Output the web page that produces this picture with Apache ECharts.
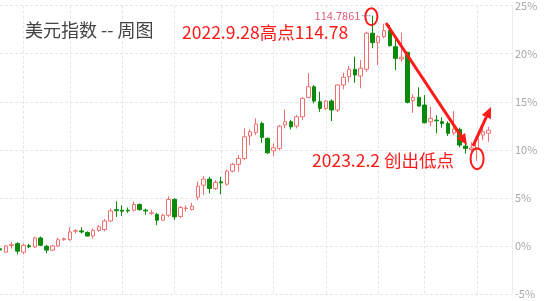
<!DOCTYPE html>
<html>
<head>
<meta charset="utf-8">
<script src="https://cdn.jsdelivr.net/npm/echarts@6/dist/echarts.min.js"></script>
<style>
  html, body { margin: 0; padding: 0; background: #fff; }
  #chart { width: 554px; height: 301px; }
</style>
</head>
<body>
<div id="chart"></div>
<script>
// Weekly bars (week-ending Friday). The last few weeks are still empty slots on the axis.
const weeks = [
  '2021-07-09','2021-07-16','2021-07-23','2021-07-30','2021-08-06','2021-08-13','2021-08-20','2021-08-27',
  '2021-09-03','2021-09-10','2021-09-17','2021-09-24','2021-10-01','2021-10-08','2021-10-15','2021-10-22',
  '2021-10-29','2021-11-05','2021-11-12','2021-11-19','2021-11-26','2021-12-03','2021-12-10','2021-12-17',
  '2021-12-24','2021-12-31','2022-01-07','2022-01-14','2022-01-21','2022-01-28','2022-02-04','2022-02-11',
  '2022-02-18','2022-02-25','2022-03-04','2022-03-11','2022-03-18','2022-03-25','2022-04-01','2022-04-08',
  '2022-04-15','2022-04-22','2022-04-29','2022-05-06','2022-05-13','2022-05-20','2022-05-27','2022-06-03',
  '2022-06-10','2022-06-17','2022-06-24','2022-07-01','2022-07-08','2022-07-15','2022-07-22','2022-07-29',
  '2022-08-05','2022-08-12','2022-08-19','2022-08-26','2022-09-02','2022-09-09','2022-09-16','2022-09-23',
  '2022-09-30','2022-10-07','2022-10-14','2022-10-21','2022-10-28','2022-11-04','2022-11-11','2022-11-18',
  '2022-11-25','2022-12-02','2022-12-09','2022-12-16','2022-12-23','2022-12-30','2023-01-06','2023-01-13',
  '2023-01-20','2023-01-27','2023-02-03','2023-02-10','2023-02-17','2023-02-24','2023-03-03','2023-03-10',
  '2023-03-17'
];

// US Dollar Index weekly OHLC
const open = [
  92.32, 92.00, 92.66, 92.83, 92.00, 92.62, 92.50, 93.37, 92.57, 92.20, 92.60, 93.20, 93.20, 94.02, 94.05, 93.90,
  93.56, 94.10, 94.18, 95.01, 96.10, 96.05, 96.05, 96.04, 96.59, 96.05, 95.75, 95.63, 95.08, 95.56, 97.08, 95.45,
  96.20, 96.11, 97.30, 98.46, 99.04, 98.14, 98.78, 98.55, 99.81, 100.46, 101.03, 103.20, 103.54, 104.41, 102.96, 101.77,
  102.00, 104.25, 104.57, 104.15, 105.05, 106.92, 107.94, 106.50, 105.86, 106.56, 105.70, 108.11, 108.91, 109.62, 108.98, 109.62,
  113.10, 112.19, 112.77, 113.35, 111.80, 110.62, 111.26, 106.59, 106.92, 106.18, 104.57, 104.72, 104.57, 104.41, 103.50, 103.83,
  102.22, 101.90, 101.90, 103.28, 103.47
];
const close = [
  92.22, 92.60, 92.72, 92.10, 92.67, 92.52, 93.37, 92.67, 92.20, 92.60, 93.20, 93.30, 93.95, 94.08, 93.95, 93.56,
  94.10, 94.45, 95.01, 95.98, 96.00, 95.95, 95.98, 96.59, 96.10, 95.97, 95.78, 95.08, 95.56, 97.08, 95.40, 96.30,
  96.25, 96.43, 98.36, 99.04, 98.14, 98.72, 98.68, 99.81, 100.46, 101.03, 103.12, 103.60, 104.34, 103.06, 101.57, 102.06,
  104.15, 104.57, 104.08, 105.05, 106.82, 107.94, 106.56, 105.86, 106.56, 105.70, 108.11, 108.85, 109.62, 109.07, 109.72, 113.10,
  112.19, 112.77, 113.35, 111.90, 110.68, 110.78, 106.44, 106.92, 106.08, 104.47, 104.89, 104.66, 104.41, 103.45, 103.85, 102.32,
  102.00, 102.05, 102.95, 103.60, 103.76
];
const low = [
  91.95, 91.95, 92.35, 91.80, 91.80, 92.40, 92.40, 92.60, 91.90, 92.10, 92.50, 93.08, 93.10, 93.80, 93.80, 93.50,
  93.30, 93.95, 94.00, 94.90, 95.40, 95.50, 95.80, 95.90, 96.00, 95.60, 95.60, 94.60, 95.00, 95.40, 95.10, 95.30,
  95.90, 96.00, 97.00, 97.50, 97.66, 98.00, 97.56, 98.40, 99.70, 99.74, 100.87, 102.32, 103.28, 102.54, 101.45, 101.26,
  101.80, 103.93, 103.83, 103.93, 104.73, 106.82, 106.34, 105.53, 105.70, 104.63, 105.50, 107.69, 108.37, 108.33, 107.79, 109.40,
  111.65, 110.04, 112.60, 111.80, 109.55, 110.36, 106.34, 105.43, 106.01, 104.41, 104.15, 103.45, 104.00, 103.20, 103.30, 102.10,
  101.50, 101.50, 100.82, 102.80, 102.64
];
const high = [
  92.50, 92.70, 93.00, 92.95, 92.83, 92.80, 93.50, 93.50, 92.70, 92.70, 93.40, 93.41, 94.40, 94.20, 94.40, 94.00,
  94.30, 94.60, 95.20, 96.20, 96.90, 96.50, 96.30, 96.90, 96.70, 96.20, 96.10, 95.80, 95.70, 97.40, 97.20, 96.45,
  96.50, 96.75, 98.80, 99.33, 99.26, 98.95, 99.26, 99.97, 100.60, 101.35, 103.93, 103.83, 104.89, 104.57, 103.06, 102.48,
  104.25, 105.76, 104.73, 105.21, 106.92, 109.24, 108.11, 107.46, 106.66, 106.73, 108.20, 109.30, 109.94, 110.84, 110.50, 113.25,
  114.7861, 112.90, 114.00, 113.90, 112.71, 113.15, 111.30, 107.21, 107.89, 107.14, 106.01, 105.21, 105.00, 104.60, 105.60, 104.00,
  102.90, 102.60, 103.10, 103.93, 104.08
];

// Percent scale is measured against this index level
const BASE = 92.6;
const yMin = -5, yMax = 25, yStep = 5;

const pct = v => (v / BASE - 1) * 100;

const candles = open.map((o, i) => [pct(o), pct(close[i]), pct(low[i]), pct(high[i])]);

// highest bar of the period
let peakIdx = 0;
high.forEach((h, i) => { if (h > high[peakIdx]) peakIdx = i; });
// lowest bar of the pullback that followed the peak
let lowIdx = peakIdx;
for (let i = peakIdx; i < low.length; i++) { if (low[i] < low[lowIdx]) lowIdx = i; }

// vertical guide at the first week of every even month
const monthOf = d => +d.slice(5, 7);
const guide = (i) => i > 0 && monthOf(weeks[i]) % 2 === 0 && monthOf(weeks[i]) !== monthOf(weeks[i - 1]);

const FONT = '"Noto Sans CJK SC", "Noto Sans", sans-serif';
const chart = echarts.init(document.getElementById('chart'), null, { renderer: 'canvas' });

chart.setOption({
  animation: false,
  backgroundColor: '#ffffff',
  textStyle: { fontFamily: FONT },
  title: {
    text: '美元指数 -- 周图',
    left: 20, top: 16,
    textStyle: { fontSize: 18, fontWeight: 'normal', color: '#444444', fontFamily: FONT }
  },
  grid: { left: 0, right: 42, top: 5.7, bottom: 7 },
  xAxis: {
    type: 'category',
    data: weeks,
    boundaryGap: false,
    axisLine: { show: false },
    axisTick: { show: false },
    axisLabel: { show: false },
    splitLine: {
      show: true,
      interval: (i) => guide(i),
      lineStyle: { color: '#e6e6e6', type: [3, 2], width: 1 }
    }
  },
  yAxis: {
    type: 'value',
    position: 'right',
    min: yMin, max: yMax, interval: yStep,
    axisLine: { show: true, lineStyle: { color: '#ececec' } },
    axisTick: { show: false },
    axisLabel: { formatter: '{value}%', color: '#a8a8a8', fontSize: 11, margin: 3, fontFamily: FONT },
    splitLine: { lineStyle: { color: '#e6e6e6', type: [3, 2], width: 1 } }
  },
  series: [{
    type: 'candlestick',
    data: candles,
    barWidth: 4,
    clip: true,
    itemStyle: {
      color: '#ffffff',
      borderColor: '#f26f6f',
      color0: '#0a8a0a',
      borderColor0: '#0a8a0a',
      borderWidth: 1
    },
    markPoint: {
      symbol: 'rect',
      symbolSize: [10, 1],
      symbolOffset: [-6, 0],
      itemStyle: { color: '#8fb0d8' },
      label: {
        show: true, position: 'left', distance: 1,
        color: '#e0607a', fontSize: 11, fontFamily: FONT,
        formatter: () => high[peakIdx].toFixed(4)
      },
      data: [{ coord: [peakIdx, pct(high[peakIdx])], value: high[peakIdx] }]
    }
  }]
});

// Annotations: circles around the extremes, trend arrows and captions
function arrow(x1, y1, x2, y2, color) {
  const ang = Math.atan2(y2 - y1, x2 - x1);
  const headLen = 11, headHalf = 5;
  const bx = x2 - headLen * Math.cos(ang), by = y2 - headLen * Math.sin(ang);
  const nx = -Math.sin(ang) * headHalf, ny = Math.cos(ang) * headHalf;
  return [
    { type: 'line', shape: { x1, y1, x2: bx, y2: by }, style: { stroke: color, lineWidth: 3 } },
    { type: 'polygon', shape: { points: [[x2, y2], [bx + nx, by + ny], [bx - nx, by - ny]] }, style: { fill: color } }
  ];
}

const RED = '#ff1a1a';
const peakPt = chart.convertToPixel({ gridIndex: 0 }, [peakIdx, pct(high[peakIdx])]);
const lowPt = chart.convertToPixel({ gridIndex: 0 }, [lowIdx, pct(low[lowIdx])]);

chart.setOption({
  graphic: [
    { type: 'ellipse', shape: { cx: peakPt[0] - 1, cy: peakPt[1] + 1, rx: 6, ry: 8.5 },
      style: { fill: 'none', stroke: RED, lineWidth: 2 }, z: 100 },
    { type: 'ellipse', shape: { cx: lowPt[0], cy: lowPt[1] - 2, rx: 6.5, ry: 10.5 },
      style: { fill: 'none', stroke: RED, lineWidth: 2 }, z: 100 },
    ...arrow(386, 23, 467, 145, RED).map(e => Object.assign(e, { z: 100 })),
    ...arrow(473, 146, 491, 107, RED).map(e => Object.assign(e, { z: 100 })),
    { type: 'text', x: 182, y: 32, z: 100,
      style: { text: '2022.9.28高点114.78', fill: RED, fontSize: 17.5, fontFamily: FONT, verticalAlign: 'middle' } },
    { type: 'text', x: 312, y: 160, z: 100,
      style: { text: '2023.2.2 创出低点', fill: RED, fontSize: 17.5, fontFamily: FONT, verticalAlign: 'middle' } }
  ]
});
</script>
</body>
</html>
